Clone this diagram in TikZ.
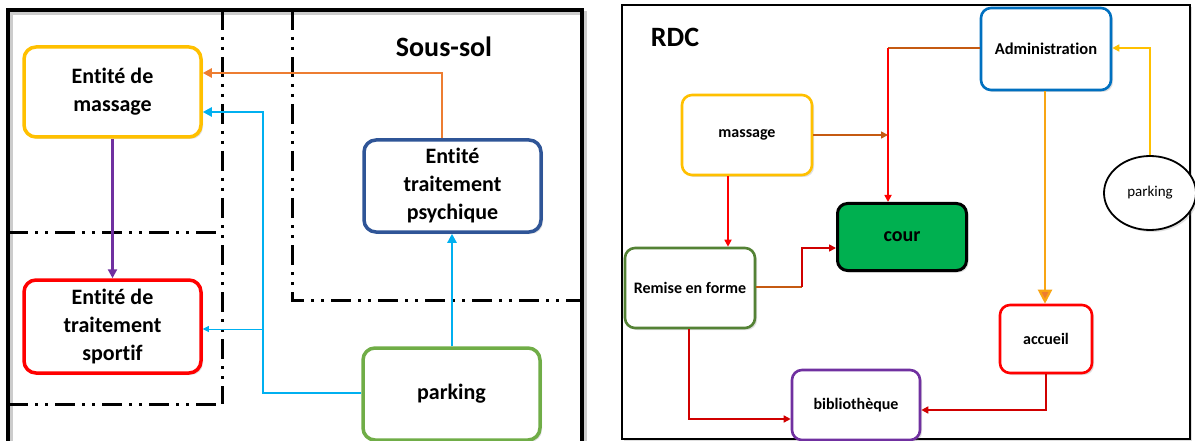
\documentclass[tikz,border=0pt]{standalone}
\usepackage{fontspec}
\setmainfont{Carlito}[Ligatures=CommonOff]
\usetikzlibrary{arrows.meta,shadows,shapes.geometric}
\definecolor{cyellow}{HTML}{FFC000}
\definecolor{cred}{HTML}{FF0000}
\definecolor{cdblue}{HTML}{2F5597}
\definecolor{cgreen}{HTML}{70AD47}
\definecolor{cdgreen}{HTML}{548235}
\definecolor{corange}{HTML}{ED7D31}
\definecolor{ccyan}{HTML}{00B0F0}
\definecolor{cpurple}{HTML}{7030A0}
\definecolor{cblue}{HTML}{0070C0}
\definecolor{cbrown}{HTML}{C55A11}
\definecolor{cdred}{HTML}{D00000}
\definecolor{ccour}{HTML}{00B050}
\tikzset{
  shd/.style={drop shadow={opacity=0.25,shadow xshift=2pt,shadow yshift=-2pt}},
  lbox/.style={draw,fill=white,rounded corners=12pt,line width=3.5pt,minimum width=177pt,align=center,font=\bfseries\fontsize{22}{28}\selectfont,shd},
  rbox/.style={draw,fill=white,rounded corners=10pt,line width=2.6pt,minimum width=130pt,align=center,font=\bfseries\fontsize{16}{19}\selectfont,shd},
  dd/.style={line width=3pt,dash pattern=on 20pt off 7pt on 3pt off 7pt on 3pt off 7pt},
  larr/.style={line width=2.5pt,-{Triangle[length=9pt,width=9pt]}},
  rarr/.style={line width=1.6pt,-{Triangle[length=7pt,width=7pt]}},
}
\begin{document}
\begin{tikzpicture}[x=1pt,y=-1pt]
\useasboundingbox (0,0) rectangle (1195,441);
% ---------- left panel ----------
\draw[line width=4pt,black!20,line cap=rect] (11,441) -- (11,13) -- (585,13) -- (585,441);
\draw[line width=4pt,line cap=rect] (8,441) -- (8,10) -- (582,10) -- (582,441);
\draw[dd] (222,10) -- (222,404);
\draw[dd] (292,10) -- (292,300) -- (580,300);
\draw[dd] (8,232) -- (222,232);
\draw[dd] (8,404) -- (222,404);
\node[font=\bfseries\fontsize{28}{32}\selectfont] (soussol) at (444,47) {Sous-sol};
\node[lbox,draw=cyellow,minimum height=90pt] (mass) at (112.5,92) {Entité de\\massage};
\node[lbox,draw=cred,minimum height=93pt] (sport) at (112.5,326.5) {Entité de\\traitement\\sportif};
\node[lbox,draw=cdblue,minimum height=92pt] (psy) at (452.5,186) {Entité\\traitement\\psychique};
\node[lbox,draw=cgreen,minimum height=92pt] (park) at (451.5,394) {parking};
\coordinate (c1) at (263,112);
\coordinate (c2) at (263,393);
\coordinate (c3) at (263,329);
\draw[larr,corange] (psy.north -| 442,0) -- (442,73) -- (mass.east |- 0,73);
\draw[larr,ccyan] (park.west |- c2) -- (c2) -- (c1) -- (mass.east |- c1);
\draw[larr,ccyan] (park.north -| 452,0) -- (psy.south -| 452,0);
\draw[ccyan,line width=0.8pt,-{Triangle[length=6pt,width=6pt]}] (c3) -- (sport.east |- c3);
\draw[larr,cpurple] (mass.south) -- (sport.north);
% ---------- right panel ----------
\draw[line width=2.6pt,fill=white,shd] (622,5) rectangle (1190,439);
\node[font=\bfseries\fontsize{28}{32}\selectfont] (rdc) at (675,37) {RDC};
\node[rbox,draw=cyellow,minimum height=80pt] (rmass) at (747,135) {massage};
\node[rbox,draw=cblue,minimum height=82pt,font=\bfseries\fontsize{16.5}{19}\selectfont] (admin) at (1046,49) {Administration};
\node[draw,fill=white,ellipse,line width=1.8pt,minimum width=92pt,minimum height=74pt,font=\fontsize{15}{18}\selectfont,shd] (rpark) at (1150,193) {parking};
\node[draw=black,fill=ccour,rounded corners=10pt,line width=3pt,minimum width=129pt,minimum height=67pt,font=\bfseries\fontsize{20}{24}\selectfont,shd] (cour) at (902,237) {cour};
\node[rbox,draw=cdgreen,minimum height=80pt] (remise) at (690,288) {Remise en forme};
\node[rbox,draw=cpurple,minimum width=128pt,minimum height=70pt] (biblio) at (856,405) {bibliothèque};
\node[rbox,draw=cred,minimum width=92pt,minimum height=68pt] (accueil) at (1046,339) {accueil};
\coordinate (j1) at (888,48);
\coordinate (j2) at (802,287);
\coordinate (j3) at (802,248);
\coordinate (j4) at (689,419);
\coordinate (j5) at (1046,410);
\coordinate (j6) at (1150,48);
\draw[line width=1.6pt,cbrown] (admin.west |- j1) -- (j1);
\draw[rarr,red] (j1) -- (cour.north -| j1);
\draw[rarr,cbrown] (rmass.east) -- (j1 |- rmass.east);
\draw[rarr,red] (rmass.south -| 728,0) -- (remise.north -| 728,0);
\draw[line width=1.6pt,cbrown] (remise.east |- j2) -- (j2);
\draw[rarr,cdred] (j2) -- (j3) -- (cour.west |- j3);
\draw[rarr,cdred] (remise.south -| j4) -- (j4) -- (biblio.west |- j4);
\draw[rarr,cdred] (accueil.south -| j5) -- (j5) -- (biblio.east |- j5);
\draw[line width=2.2pt,cyellow!60!corange,-{Triangle[length=14pt,width=14pt,fill=corange]}] (admin.south -| 1045,0) -- (accueil.north -| 1045,0);
\draw[rarr,cyellow] (rpark.north) -- (j6) -- (admin.east |- j6);
\end{tikzpicture}
\end{document}
